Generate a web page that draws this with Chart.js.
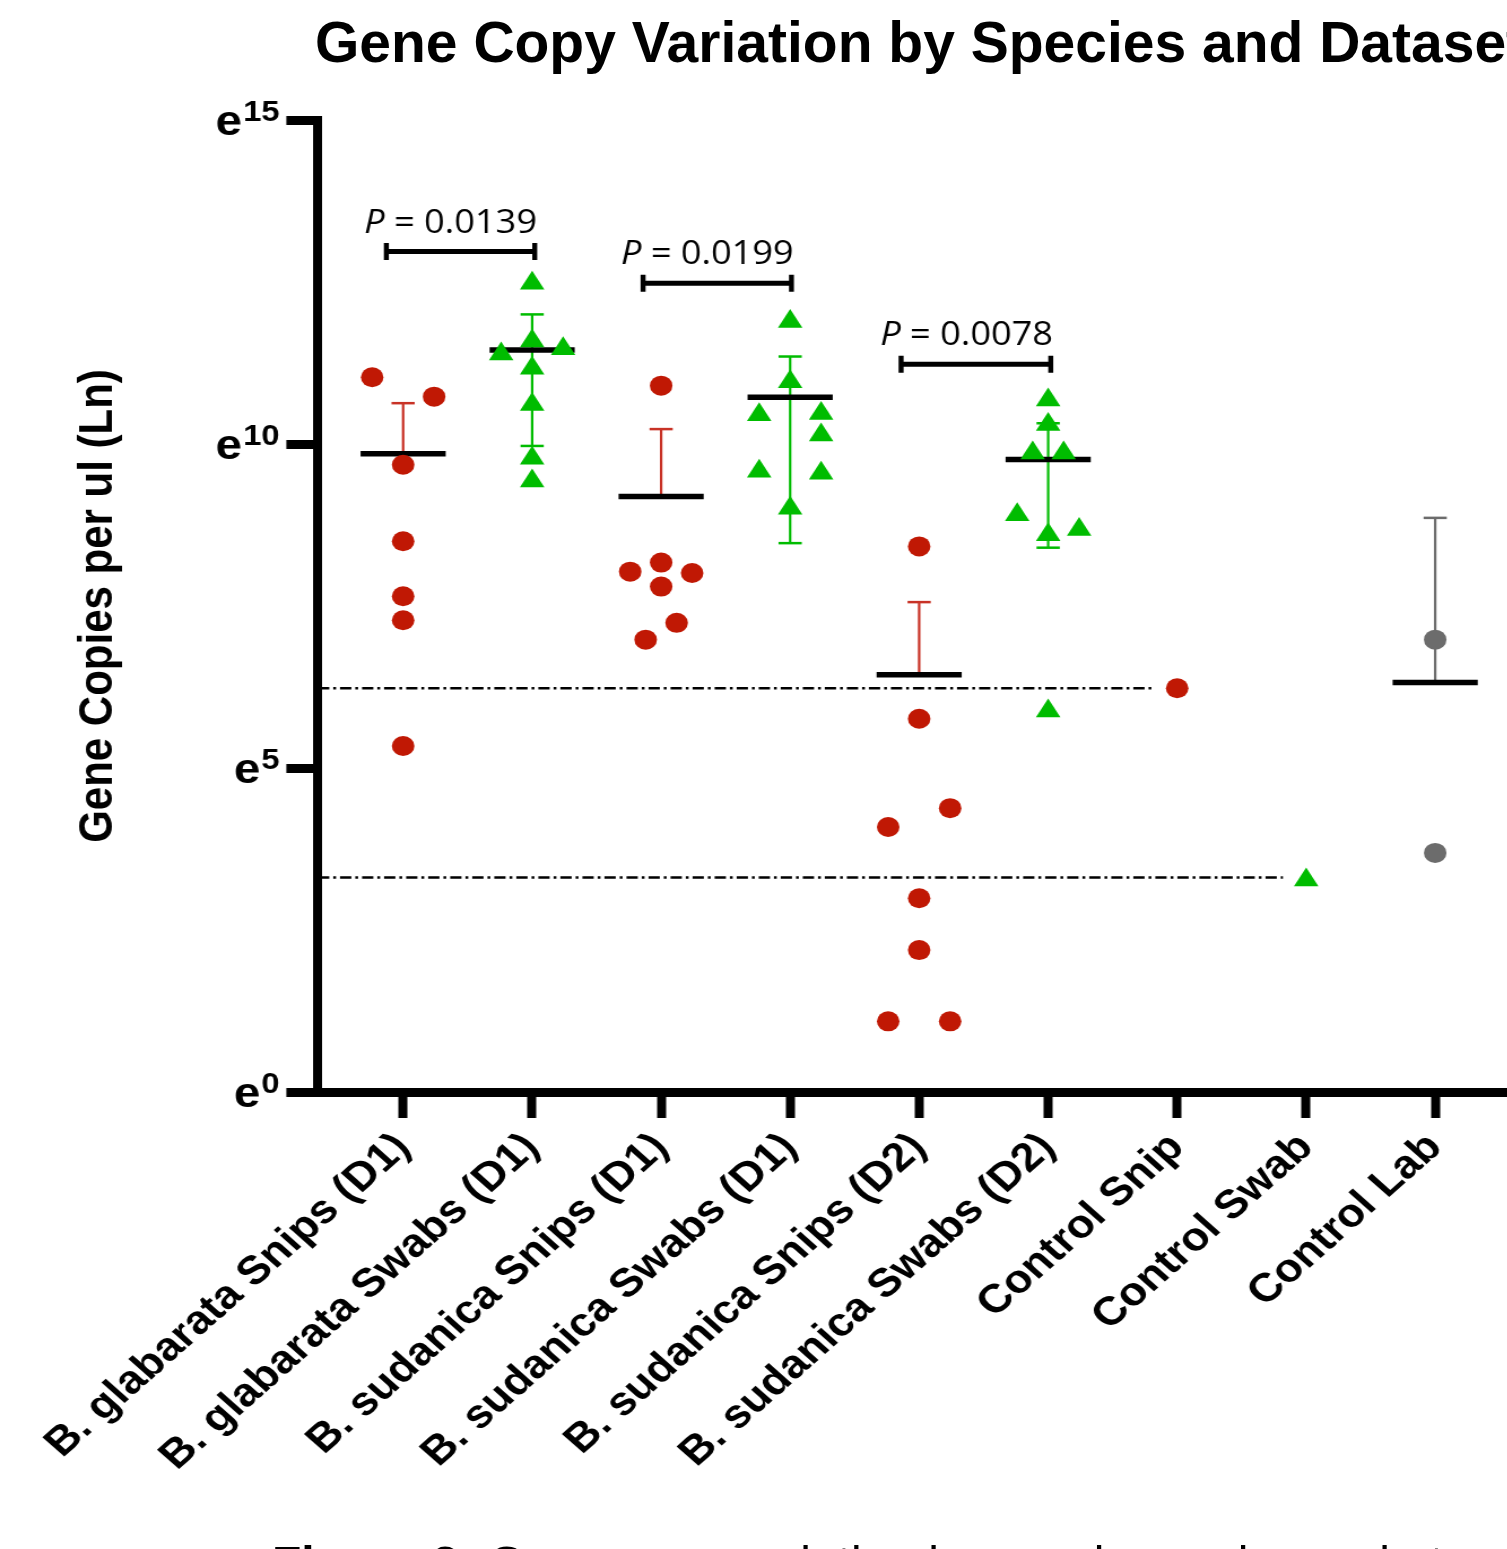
<!DOCTYPE html>
<html>
<head>
<meta charset="utf-8">
<title>Gene Copy Variation by Species and Dataset</title>
<script src="https://cdn.jsdelivr.net/npm/chart.js@4.4.1/dist/chart.umd.min.js"></script>
<style>
  html, body { margin: 0; padding: 0; background: #fff; }
  #page { position: relative; width: 1507px; height: 1549px; overflow: hidden; background: #fff; }
  /* the chart picture in the figure is a bit stretched sideways */
  #geneChart { position: absolute; left: 0; top: 0; transform: scaleX(1.13); transform-origin: 0 0; }
  #title { position: absolute; left: 315px; top: 14px; font: bold 57px "Liberation Sans", Arial, sans-serif; line-height: 57px; white-space: nowrap; color: #000; }
  #caption { position: absolute; left: 272px; top: 1540px; font: 48px "Liberation Sans", Arial, sans-serif; line-height: 48px; white-space: nowrap; color: #000; }
</style>
</head>
<body>
<div id="page">
  <canvas id="geneChart" width="1334" height="1549" style="width:1334px;height:1549px"></canvas>
  <div id="title">Gene Copy Variation by Species and Dataset</div>
  <div id="caption"><b>Figure 3:</b> Gene copy variation by species and sample type</div>
</div>
<script>
//--- categories on the x axis
var categories = ['B. glabarata Snips (D1)', 'B. glabarata Swabs (D1)', 'B. sudanica Snips (D1)',
    'B. sudanica Swabs (D1)', 'B. sudanica Snips (D2)', 'B. sudanica Swabs (D2)',
    'Control Snip', 'Control Swab', 'Control Lab'];
var yTicks = [0, 5, 10, 15];

//--- ln(gene copies per ul) of every sample, with its sideways spread (category units)
var glabSnipsD1 = [11.03, 10.73, 9.68, 8.50, 7.65, 7.28, 5.34];
var glabSnipsD1Jit = [-0.24, 0.24, 0, 0, 0, 0, 0];
var glabSwabsD1 = [12.48, 11.59, 11.39, 11.47, 11.17, 10.61, 9.78, 9.43];
var glabSwabsD1Jit = [0, 0, -0.24, 0.24, 0, 0, 0, 0];
var sudSnipsD1 = [10.90, 8.17, 8.03, 8.01, 7.80, 7.24, 6.98];
var sudSnipsD1Jit = [0, 0, -0.24, 0.24, 0, 0.12, -0.12];
var sudSwabsD1 = [11.89, 10.96, 10.45, 10.47, 10.14, 9.58, 9.55, 9.01];
var sudSwabsD1Jit = [0, 0, -0.24, 0.24, 0.24, -0.24, 0.24, 0];
var sudSnipsD2 = [8.42, 5.76, 4.38, 4.09, 2.99, 2.19, 1.09, 1.09];
var sudSnipsD2Jit = [0, 0, 0.24, -0.24, 0, 0, -0.24, 0.24];
var sudSwabsD2 = [10.68, 10.30, 9.86, 9.86, 8.91, 8.68, 8.60, 5.88];
var sudSwabsD2Jit = [0, 0, -0.12, 0.12, -0.24, 0.24, 0, 0];
var ctrlSnip = [6.23];
var ctrlSwab = [3.27];
var ctrlLab = [6.98, 3.69];

//--- mean and error bar ends per category (null = not drawn)
var groupMean = [9.85, 11.45, 9.19, 10.72, 6.44, 9.76, null, null, 6.32];
var groupSdUp = [10.63, 12.00, 10.23, 11.35, 7.56, 10.32, null, null, 8.86];
var groupSdDown = [null, 9.97, null, 8.47, null, 8.40, null, null, null];

//--- dash-dot cut-off lines
var thresholdLevels = [6.23, 3.31];
var thresholdEnds = [5.83, 6.82];

//--- p value brackets
var pValues = ['0.0139', '0.0199', '0.0078'];
var pFrom = [-0.13, 1.86, 3.86];
var pTo = [1.02, 3.01, 5.02];
var pLevel = [12.97, 12.48, 11.23];

var RED = 'rgb(192, 24, 4)';
var GREEN = 'rgb(0, 188, 0)';
var GREY = 'rgb(108, 108, 108)';
var barColors = ['rgb(200, 50, 38)', GREEN, 'rgb(200, 50, 38)', GREEN, 'rgb(200, 50, 38)', GREEN, RED, GREEN, GREY];
var X_MIN = -0.66, X_MAX = 8.56;
var FONT = '"Liberation Sans", Arial, Helvetica, sans-serif';

function toPoints(idx, vals, jit) {
    return vals.map(function (v, k) {
        return { x: idx + (jit ? jit[k] : 0), y: v };
    });
}

var redPoints = [].concat(
    toPoints(0, glabSnipsD1, glabSnipsD1Jit),
    toPoints(2, sudSnipsD1, sudSnipsD1Jit),
    toPoints(4, sudSnipsD2, sudSnipsD2Jit),
    toPoints(6, ctrlSnip));
var greenPoints = [].concat(
    toPoints(1, glabSwabsD1, glabSwabsD1Jit),
    toPoints(3, sudSwabsD1, sudSwabsD1Jit),
    toPoints(5, sudSwabsD2, sudSwabsD2Jit),
    toPoints(7, ctrlSwab));
var greyPoints = toPoints(8, ctrlLab);

var datasets = [
    { label: 'Snips', data: redPoints, pointStyle: 'circle', pointRadius: 10, backgroundColor: RED, borderWidth: 0 },
    { label: 'Swabs', data: greenPoints, pointStyle: 'triangle', pointRadius: 12.5, backgroundColor: GREEN, borderWidth: 0 },
    { label: 'Control Lab', data: greyPoints, pointStyle: 'circle', pointRadius: 10, backgroundColor: GREY, borderWidth: 0 }
];
thresholdLevels.forEach(function (lv, k) {
    datasets.push({
        label: 'cut-off ' + (k + 1),
        data: [{ x: X_MIN, y: lv }, { x: thresholdEnds[k], y: lv }],
        showLine: true, pointRadius: 0, borderColor: '#000', borderWidth: 2.5,
        borderDash: [10, 3.5, 2.5, 3.5]
    });
});

// mean line + error bar for each group, under the points
var meanSdPlugin = {
    id: 'meanSd',
    beforeDatasetsDraw: function (chart) {
        var ctx = chart.ctx, x = chart.scales.x, y = chart.scales.y;
        ctx.save();
        categories.forEach(function (c, i) {
            if (groupMean[i] == null) return;
            var cx = x.getPixelForValue(i);
            var ym = y.getPixelForValue(groupMean[i]);
            ctx.strokeStyle = barColors[i];
            [groupSdUp[i], groupSdDown[i]].forEach(function (v) {
                if (v == null) return;
                var ye = y.getPixelForValue(v);
                ctx.lineWidth = 2.2;
                ctx.beginPath(); ctx.moveTo(cx, ym); ctx.lineTo(cx, ye); ctx.stroke();
                ctx.lineWidth = 2.5;
                ctx.beginPath();
                ctx.moveTo(x.getPixelForValue(i - 0.09), ye);
                ctx.lineTo(x.getPixelForValue(i + 0.09), ye);
                ctx.stroke();
            });
            ctx.strokeStyle = '#000';
            ctx.lineWidth = 5.5;
            ctx.beginPath();
            ctx.moveTo(x.getPixelForValue(i - 0.33), ym);
            ctx.lineTo(x.getPixelForValue(i + 0.33), ym);
            ctx.stroke();
        });
        ctx.restore();
    }
};

// e^n tick labels and p value brackets
var decorPlugin = {
    id: 'decor',
    afterDraw: function (chart) {
        var ctx = chart.ctx, x = chart.scales.x, y = chart.scales.y;
        ctx.save();
        ctx.fillStyle = '#000';
        ctx.textAlign = 'right';
        ctx.textBaseline = 'alphabetic';
        var right = chart.chartArea.left - 28 - 6;
        yTicks.forEach(function (v) {
            var py = y.getPixelForValue(v);
            ctx.font = 'bold 29px ' + FONT;
            var sup = String(v);
            var supW = ctx.measureText(sup).width;
            ctx.fillText(sup, right, py + 1);
            ctx.font = 'bold 42px ' + FONT;
            ctx.fillText('e', right - supW - 1, py + 15);
        });

        ctx.strokeStyle = '#000';
        pValues.forEach(function (p, k) {
            var x1 = x.getPixelForValue(pFrom[k]);
            var x2 = x.getPixelForValue(pTo[k]);
            var py = y.getPixelForValue(pLevel[k]);
            ctx.lineWidth = 5;
            ctx.beginPath(); ctx.moveTo(x1, py); ctx.lineTo(x2, py); ctx.stroke();
            ctx.lineWidth = 4.4;
            ctx.beginPath();
            ctx.moveTo(x1, py - 8.5); ctx.lineTo(x1, py + 8.5);
            ctx.moveTo(x2, py - 8.5); ctx.lineTo(x2, py + 8.5);
            ctx.stroke();

            var rest = ' = ' + p;
            ctx.font = '32px "Open Sans", ' + FONT;
            var restW = ctx.measureText(rest).width;
            var tx = x2 + 2;
            ctx.fillText(rest, tx, py - 19);
            ctx.font = 'italic 32px "Open Sans", ' + FONT;
            ctx.fillText('P', tx - restW, py - 19);
        });
        ctx.restore();
    }
};

var ctx = document.getElementById('geneChart');
new Chart(ctx, {
    type: 'scatter',
    data: { datasets: datasets },
    options: {
        responsive: false,
        animation: false,
        devicePixelRatio: 1,
        layout: { padding: { top: 120, left: 0, right: 0, bottom: 0 }, autoPadding: false },
        plugins: {
            legend: { display: false },
            tooltip: { enabled: false },
            title: { display: false }
        },
        scales: {
            x: {
                type: 'linear',
                min: X_MIN,
                max: X_MAX,
                afterFit: function (scale) { scale.height = 457; },
                afterBuildTicks: function (scale) {
                    scale.ticks = categories.map(function (c, i) { return { value: i }; });
                },
                ticks: {
                    autoSkip: false,
                    minRotation: 45,
                    maxRotation: 45,
                    padding: 6,
                    color: '#000',
                    font: { family: FONT, size: 40, weight: 'bold' },
                    callback: function (v) { return categories[v]; }
                },
                grid: { drawOnChartArea: false, drawTicks: true, tickLength: 26, tickWidth: 8, tickColor: '#000' },
                border: { display: true, color: '#000', width: 9 }
            },
            y: {
                min: 0,
                max: 15,
                afterFit: function (scale) { scale.width = 281.4; },
                afterBuildTicks: function (scale) {
                    scale.ticks = yTicks.map(function (v) { return { value: v }; });
                },
                ticks: { display: false },
                grid: { drawOnChartArea: false, drawTicks: true, tickLength: 28, tickWidth: 9, tickColor: '#000' },
                border: { display: true, color: '#000', width: 8 },
                title: {
                    display: true,
                    text: 'Gene Copies per ul (Ln)',
                    color: '#000',
                    font: { family: FONT, size: 42, weight: 'bold' },
                    padding: { top: 62, bottom: 0 }
                }
            }
        }
    },
    plugins: [meanSdPlugin, decorPlugin]
});
</script>
</body>
</html>
